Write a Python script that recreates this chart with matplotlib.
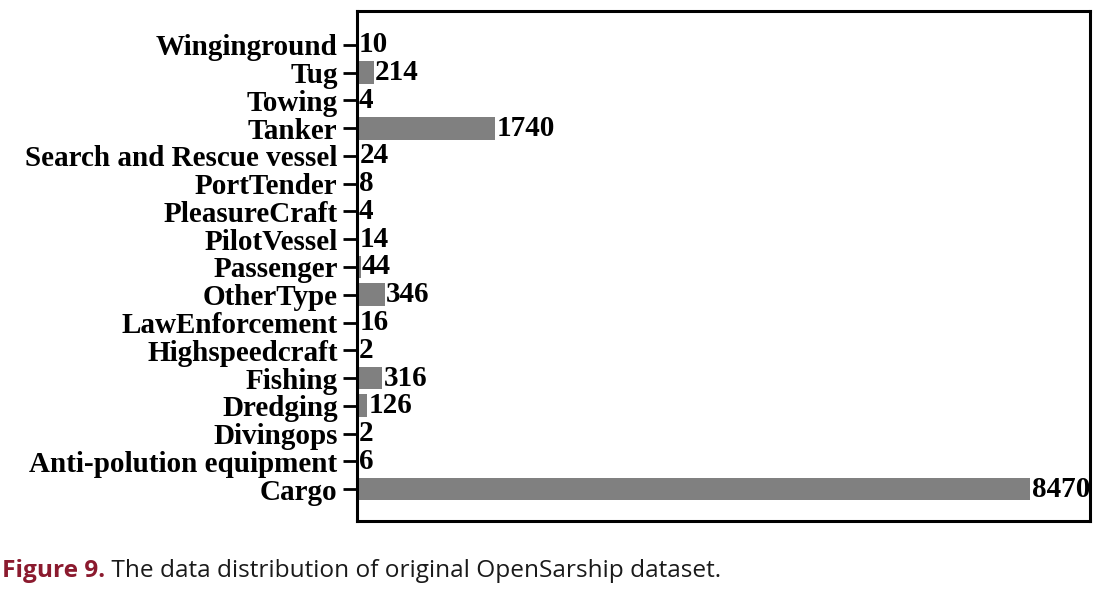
import matplotlib.pyplot as plt
import numpy as np

# Ship types, bottom to top as drawn
ship_types = ['Cargo', 'Anti-polution equipment', 'Divingops', 'Dredging',
              'Fishing', 'Highspeedcraft', 'LawEnforcement', 'OtherType',
              'Passenger', 'PilotVessel', 'PleasureCraft', 'PortTender',
              'Search and Rescue vessel', 'Tanker', 'Towing', 'Tug',
              'Winginground']
counts = [8470, 6, 2, 126, 316, 2, 16, 346, 44, 14, 4, 8, 24, 1740, 4, 214, 10]

caption_head = 'Figure 9.'
caption_body = ' The data distribution of original OpenSarship dataset.'

fig = plt.figure(figsize=(11.06, 5.89), dpi=100)
fig.patch.set_facecolor('white')
ax = fig.add_axes([0.3228, 0.1154, 0.6627, 0.8659])

y = np.arange(len(ship_types))
ax.barh(y, counts, height=0.82, color='#808080')

serif = 'Liberation Serif'
for yi, v in zip(y, counts):
    ax.text(v + 15, yi, str(v), va='center', ha='left',
            fontsize=21, family=serif, weight='bold')

ax.set_yticks(y)
ax.set_yticklabels(ship_types, fontsize=21, family=serif, weight='bold')
ax.set_xticks([])
ax.set_xlim(0, 9220)
ax.set_ylim(-1.15, len(ship_types) - 1 + 1.22)
ax.tick_params(axis='y', length=10, width=2, pad=4)
for s in ax.spines.values():
    s.set_linewidth(2.2)

# caption under the chart
t = fig.text(0.002, 0.02, caption_head, fontsize=17.6, family='Open Sans',
             weight='bold', color='#8b1a2e')
fig.canvas.draw()
bb = t.get_window_extent()
fig.text(bb.x1 / fig.bbox.width, 0.02, caption_body, fontsize=17.6,
         family='Open Sans', color='#1a1a1a')

fig.savefig('out.png', dpi=100)
